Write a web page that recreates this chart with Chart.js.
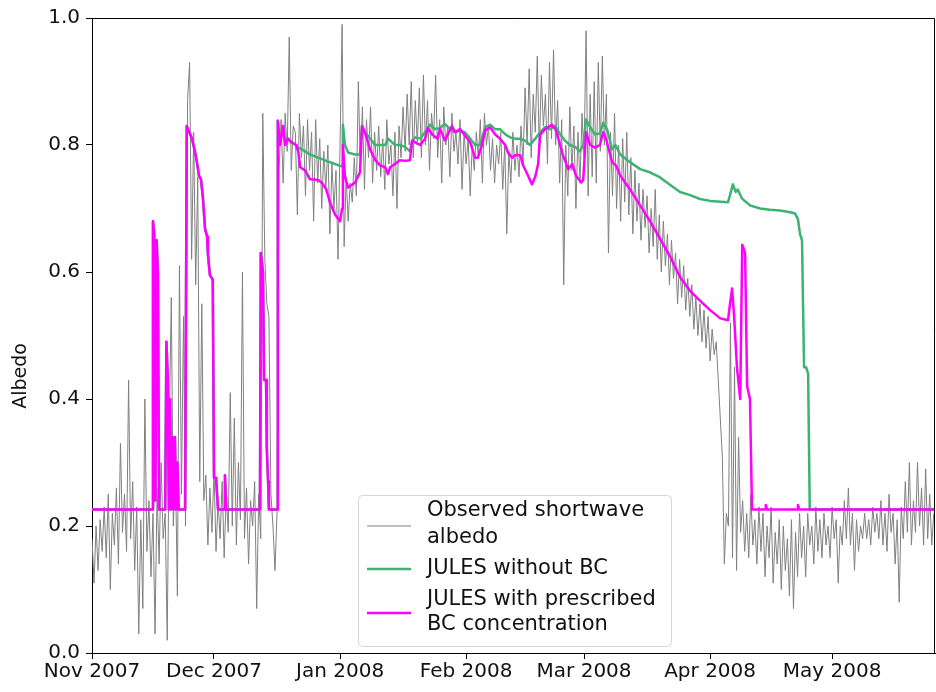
<!DOCTYPE html>
<html>
<head>
<meta charset="utf-8">
<script src="https://cdn.jsdelivr.net/npm/chart.js@4.4.1/dist/chart.umd.min.js"></script>
<style>
  body { margin: 0; background: #fff; }
  canvas { display: block; }
</style>
</head>
<body>
<canvas id="albedoChart" width="936" height="692"></canvas>
<script>
Chart.defaults.font.family = '"DejaVu Sans"'
Chart.defaults.font.size = 20
Chart.defaults.color = '#000'

// x axis is days since 1 Nov 2007
const monthDays = [0, 30, 61, 92, 121, 152, 182];
const monthLabels = ['Nov 2007', 'Dec 2007', 'Jan 2008', 'Feb 2008', 'Mar 2008', 'Apr 2008', 'May 2008'];
const yTicks = [0, 0.2, 0.4, 0.6, 0.8, 1.0];
const yTitle = 'Albedo';

// observed albedo, two readings per day starting 1 Nov
const obsStep = 0.5;
const observed = [
  0.18, 0.11, 0.20, 0.13, 0.21, 0.16, 0.23, 0.15, 0.25, 0.10,
  0.22, 0.17, 0.26, 0.14, 0.33, 0.19, 0.25, 0.16, 0.43, 0.18,
  0.27, 0.13, 0.23, 0.03, 0.21, 0.07, 0.40, 0.16, 0.24, 0.12,
  0.22, 0.03, 0.26, 0.14, 0.30, 0.18, 0.22, 0.02, 0.36, 0.56,
  0.20, 0.30, 0.09, 0.61, 0.25, 0.53, 0.20, 0.87, 0.93, 0.62,
  0.82, 0.58, 0.75, 0.27, 0.55, 0.24, 0.28, 0.17, 0.26, 0.19,
  0.29, 0.16, 0.24, 0.18, 0.27, 0.15, 0.25, 0.19, 0.41, 0.20,
  0.37, 0.17, 0.30, 0.21, 0.60, 0.18, 0.26, 0.14, 0.24, 0.20,
  0.27, 0.07, 0.25, 0.18, 0.85, 0.62, 0.55, 0.53, 0.25, 0.20,
  0.13, 0.22, 0.76, 0.84, 0.74, 0.85, 0.79, 0.97, 0.76, 0.83,
  0.82, 0.69, 0.85, 0.78, 0.83, 0.72, 0.84, 0.76, 0.82, 0.68,
  0.84, 0.74, 0.81, 0.70, 0.79, 0.73, 0.80, 0.66, 0.77, 0.70,
  0.76, 0.62, 0.80, 0.99, 0.64, 0.75, 0.68, 0.74, 0.71, 0.78,
  0.72, 0.90, 0.76, 0.86, 0.73, 0.84, 0.78, 0.86, 0.74, 0.82,
  0.76, 0.83, 0.75, 0.81, 0.73, 0.84, 0.77, 0.80, 0.72, 0.82,
  0.70, 0.83, 0.78, 0.86, 0.79, 0.88, 0.80, 0.90, 0.78, 0.87,
  0.80, 0.89, 0.78, 0.91, 0.80, 0.87, 0.76, 0.85, 0.81, 0.91,
  0.78, 0.84, 0.74, 0.86, 0.80, 0.83, 0.75, 0.85, 0.79, 0.82,
  0.77, 0.84, 0.73, 0.82, 0.77, 0.81, 0.72, 0.80, 0.76, 0.82,
  0.78, 0.84, 0.74, 0.85, 0.80, 0.83, 0.76, 0.81, 0.74, 0.80,
  0.77, 0.82, 0.73, 0.80, 0.66, 0.79, 0.74, 0.82, 0.76, 0.80,
  0.75, 0.83, 0.77, 0.89, 0.80, 0.92, 0.78, 0.88, 0.82, 0.94,
  0.79, 0.91, 0.83, 0.88, 0.77, 0.93, 0.81, 0.95, 0.80, 0.87,
  0.74, 0.84, 0.58, 0.80, 0.72, 0.86, 0.76, 0.83, 0.70, 0.82,
  0.74, 0.85, 0.78, 0.98, 0.72, 0.88, 0.75, 0.90, 0.74, 0.93,
  0.79, 0.94, 0.80, 0.88, 0.63, 0.82, 0.72, 0.85, 0.70, 0.80,
  0.68, 0.81, 0.71, 0.82, 0.69, 0.78, 0.66, 0.76, 0.68, 0.74,
  0.65, 0.73, 0.67, 0.72, 0.63, 0.70, 0.64, 0.73, 0.62, 0.69,
  0.60, 0.68, 0.61, 0.66, 0.58, 0.65, 0.59, 0.63, 0.55, 0.62,
  0.56, 0.61, 0.54, 0.59, 0.53, 0.58, 0.51, 0.56, 0.50, 0.55,
  0.49, 0.54, 0.48, 0.53, 0.46, 0.51, 0.47, 0.49, 0.43, 0.37,
  0.31, 0.14, 0.22, 0.20, 0.52, 0.15, 0.45, 0.13, 0.34, 0.19,
  0.24, 0.16, 0.22, 0.15, 0.25, 0.17, 0.21, 0.14, 0.23, 0.16,
  0.22, 0.12, 0.20, 0.15, 0.23, 0.11, 0.19, 0.14, 0.21, 0.10,
  0.20, 0.13, 0.18, 0.09, 0.21, 0.07, 0.19, 0.12, 0.22, 0.15,
  0.20, 0.12, 0.22, 0.17, 0.20, 0.14, 0.23, 0.16, 0.21, 0.15,
  0.22, 0.17, 0.20, 0.15, 0.23, 0.18, 0.21, 0.11, 0.20, 0.17,
  0.24, 0.18, 0.26, 0.17, 0.22, 0.13, 0.21, 0.16, 0.20, 0.18,
  0.22, 0.18, 0.21, 0.17, 0.23, 0.19, 0.22, 0.18, 0.24, 0.17,
  0.22, 0.16, 0.25, 0.19, 0.22, 0.14, 0.21, 0.08, 0.23, 0.18,
  0.27, 0.19, 0.30, 0.17, 0.24, 0.19, 0.30, 0.20, 0.26, 0.17,
  0.29, 0.18, 0.25, 0.17, 0.22
];

// JULES with prescribed BC
const bcDays = [
  0, 14.8, 15.0, 15.3, 15.6, 15.9, 16.2, 16.5, 18.0, 18.3, 18.6, 18.9, 19.2, 19.5, 19.8, 20.1, 20.4, 20.7, 21.0, 21.3,
  22.9, 23.3, 24.6, 25.3, 25.8, 26.3, 26.8, 27.3, 27.8, 28.3, 28.5, 29.0, 29.7, 30.0, 30.5, 31.0, 32.5, 32.7, 33.0,
  41.3, 41.5, 42.05, 42.3, 42.8, 43.0, 43.3, 43.5, 45.5, 45.7, 46.2, 47.0, 47.5, 48.2, 48.9, 50.2, 50.7,
  51.2, 52.4, 53.6, 55.6, 56.6, 57.6, 58.5, 59.8, 61.0, 61.5, 61.7, 62.2, 63.0, 64.7, 65.9, 66.4, 67.1, 68.4, 69.6,
  70.8, 72.1, 72.8, 73.3, 74.5, 75.7, 77.0, 78.2, 78.7, 80.7, 81.9, 82.6, 83.6, 84.9, 85.6, 86.8, 88.5, 89.3, 90.5,
  91.7, 93.0, 94.2, 94.9, 95.9, 96.7, 97.9, 99.1, 100.3, 101.6, 102.3, 103.3, 104.0, 105.3, 106.0, 107.2, 108.2,
  109.0, 109.7, 110.2, 111.4, 113.1, 114.1, 115.1, 115.8, 117.1, 118.1, 119.0, 120.3, 120.8, 121.5, 122.5, 123.7,
  124.9, 125.7, 126.4, 127.9, 128.9, 129.9, 132.3, 134.8, 137.2, 139.7, 142.2, 144.6, 147.1, 149.5, 152.0, 154.5,
  156.4, 156.9, 157.4, 157.9, 158.6, 159.4, 159.9, 160.6, 161.1, 161.8, 162.3, 165.5, 165.7, 166.0, 173.4, 173.6,
  173.9, 207.3
];
const bcAlbedo = [
  0.226, 0.226, 0.68, 0.66, 0.24, 0.65, 0.60, 0.226, 0.226, 0.49, 0.44, 0.226, 0.40, 0.226, 0.34, 0.226, 0.34, 0.226, 0.30, 0.226,
  0.226, 0.83, 0.81, 0.79, 0.773, 0.752, 0.746, 0.715, 0.668, 0.656, 0.628, 0.595, 0.588, 0.276, 0.276, 0.226, 0.226, 0.28, 0.226,
  0.226, 0.63, 0.60, 0.43, 0.43, 0.32, 0.27, 0.226, 0.226, 0.838, 0.80, 0.83, 0.80, 0.81, 0.805, 0.80, 0.79,
  0.765, 0.76, 0.746, 0.745, 0.74, 0.73, 0.71, 0.69, 0.68, 0.70, 0.80, 0.75, 0.733, 0.741, 0.757, 0.83, 0.82, 0.793, 0.777,
  0.768, 0.765, 0.754, 0.765, 0.77, 0.776, 0.775, 0.776, 0.807, 0.80, 0.81, 0.827, 0.817, 0.81, 0.825, 0.807, 0.83, 0.82, 0.825,
  0.815, 0.804, 0.78, 0.78, 0.80, 0.823, 0.828, 0.817, 0.81, 0.80, 0.788, 0.78, 0.784, 0.784, 0.768, 0.752, 0.738,
  0.75, 0.77, 0.816, 0.825, 0.832, 0.823, 0.80, 0.784, 0.762, 0.77, 0.752, 0.741, 0.745, 0.82, 0.80, 0.796,
  0.80, 0.82, 0.81, 0.773, 0.767, 0.752, 0.73, 0.705, 0.68, 0.652, 0.624, 0.592, 0.57, 0.555, 0.54, 0.527,
  0.524, 0.55, 0.574, 0.53, 0.45, 0.40, 0.643, 0.63, 0.42, 0.40, 0.226, 0.226, 0.233, 0.226, 0.226, 0.233,
  0.226, 0.226
];

// JULES without BC
const noBcDays = [
  0, 14.8, 15.0, 15.3, 15.6, 15.9, 16.2, 16.5, 18.0, 18.3, 18.6, 18.9, 19.2, 19.5, 19.8, 20.1, 20.4, 20.7, 21.0, 21.3,
  22.9, 23.3, 24.6, 25.3, 25.8, 26.3, 26.8, 27.3, 27.8, 28.3, 28.5, 29.0, 29.7, 30.0, 30.5, 31.0, 32.5, 32.7, 33.0,
  41.3, 41.5, 42.05, 42.3, 42.8, 43.0, 43.3, 43.5, 45.5, 45.7, 46.2, 47.0, 47.5, 48.2, 48.9, 50.2, 50.7,
  51.2, 52.4, 53.6, 55.6, 57.6, 59.8, 61.0, 61.5, 61.7, 62.2, 63.0, 64.7, 65.9, 66.4, 67.1, 68.4, 69.6, 70.8,
  72.1, 72.8, 74.5, 75.7, 77.0, 78.2, 78.7, 79.5, 80.7, 81.9, 83.1, 84.4, 85.6, 86.8, 88.1, 89.3, 90.5, 91.7,
  93.0, 94.2, 95.4, 96.7, 97.9, 99.1, 100.3, 101.6, 102.8, 104.0, 105.3, 106.5, 107.7, 109.0, 110.2, 111.4,
  112.6, 113.9, 115.1, 116.3, 117.5, 118.8, 120.0, 120.8, 121.5, 122.5, 123.7, 124.9, 125.7, 126.7, 127.9, 128.7,
  129.9, 132.3, 134.8, 137.2, 139.7, 142.2, 144.6, 147.1, 149.5, 152.0, 156.4, 156.9, 157.6, 158.3, 158.8, 159.8,
  161.8, 164.3, 166.7, 169.2, 171.7, 172.9, 173.6, 174.1, 174.6, 175.1, 175.6, 176.1, 176.5, 207.3
];
const noBcAlbedo = [
  0.226, 0.226, 0.68, 0.66, 0.24, 0.65, 0.60, 0.226, 0.226, 0.49, 0.44, 0.226, 0.40, 0.226, 0.34, 0.226, 0.34, 0.226, 0.30, 0.226,
  0.226, 0.83, 0.81, 0.79, 0.773, 0.752, 0.746, 0.715, 0.668, 0.656, 0.628, 0.595, 0.588, 0.276, 0.276, 0.226, 0.226, 0.28, 0.226,
  0.226, 0.63, 0.60, 0.43, 0.43, 0.32, 0.27, 0.226, 0.226, 0.838, 0.80, 0.83, 0.80, 0.81, 0.805, 0.80, 0.795,
  0.795, 0.79, 0.785, 0.78, 0.775, 0.77, 0.767, 0.767, 0.832, 0.80, 0.788, 0.785, 0.785, 0.83, 0.82, 0.81, 0.80, 0.80,
  0.80, 0.81, 0.80, 0.80, 0.797, 0.79, 0.805, 0.812, 0.81, 0.82, 0.832, 0.825, 0.827, 0.833, 0.825, 0.82, 0.823, 0.82,
  0.81, 0.80, 0.80, 0.828, 0.832, 0.825, 0.825, 0.817, 0.812, 0.81, 0.81, 0.807, 0.80, 0.81, 0.82, 0.828,
  0.825, 0.83, 0.817, 0.807, 0.80, 0.797, 0.79, 0.80, 0.84, 0.828, 0.817, 0.818, 0.835, 0.824, 0.793, 0.80,
  0.785, 0.773, 0.762, 0.757, 0.749, 0.737, 0.726, 0.721, 0.715, 0.712, 0.71, 0.721, 0.738, 0.726, 0.73, 0.716,
  0.705, 0.70, 0.698, 0.697, 0.694, 0.692, 0.683, 0.66, 0.65, 0.45, 0.45, 0.44, 0.226, 0.226
];

const toPoints = (days, values) => values.map((v, i) => ({ x: days[i], y: v }));
const obsPoints = observed.map((v, i) => ({ x: i * obsStep, y: v }));

// legend entries drawn inside the axes like matplotlib
const legendItems = [
  { lines: ['Observed shortwave', 'albedo'], color: '#808080', width: 1 },
  { lines: ['JULES without BC'], color: '#3cb371', width: 2.5 },
  { lines: ['JULES with prescribed', 'BC concentration'], color: '#ff00ff', width: 2.5 }
];

const frameAndLegend = {
  id: 'frameAndLegend',
  afterDatasetsDraw(chart) {
    const { ctx, chartArea: ca } = chart;
    ctx.save();
    // top and right spines
    ctx.strokeStyle = '#000';
    ctx.lineWidth = 1;
    ctx.beginPath();
    ctx.moveTo(ca.left, ca.top + 0.5);
    ctx.lineTo(ca.right - 0.5, ca.top + 0.5);
    ctx.lineTo(ca.right - 0.5, ca.bottom);
    ctx.stroke();

    // y axis title, sits a little below the middle as in the original
    ctx.save();
    ctx.translate(21, ca.top + 358);
    ctx.rotate(-Math.PI / 2);
    ctx.font = '19px "DejaVu Sans"';
    ctx.fillStyle = '#111';
    ctx.textAlign = 'center';
    ctx.textBaseline = 'middle';
    ctx.fillText(yTitle, 0, 0);
    ctx.restore();

    // legend box
    const bx = ca.left + 266, by = ca.top + 477, bw = 313, bh = 151;
    ctx.fillStyle = 'rgba(255,255,255,0.8)';
    ctx.strokeStyle = '#d6d6d6';
    ctx.beginPath();
    ctx.roundRect(bx + 0.5, by + 0.5, bw, bh, 4);
    ctx.fill();
    ctx.stroke();

    ctx.font = '21px "DejaVu Sans"';
    ctx.fillStyle = '#111';
    ctx.textBaseline = 'middle';
    const textRows = [[16, 43], [74], [105, 130]];
    const lineRows = [31, 74, 118];
    legendItems.forEach((item, i) => {
      ctx.strokeStyle = item.color;
      ctx.lineWidth = item.width;
      ctx.beginPath();
      ctx.moveTo(bx + 9, by + lineRows[i]);
      ctx.lineTo(bx + 53, by + lineRows[i]);
      ctx.stroke();
      item.lines.forEach((t, j) => {
        ctx.fillText(t, bx + 69, by + textRows[i][j]);
      });
    });
    ctx.restore();
  }
};

const renderAlbedoChart = () => {
  const canvas = document.getElementById('albedoChart');

  new Chart(canvas, {
    type: 'line',
    data: {
      datasets: [
        {
          label: 'JULES with prescribed BC concentration',
          data: toPoints(bcDays, bcAlbedo),
          borderColor: '#ff00ff',
          borderWidth: 2.5,
          order: 0
        },
        {
          label: 'JULES without BC',
          data: toPoints(noBcDays, noBcAlbedo),
          borderColor: '#3cb371',
          borderWidth: 2.5,
          order: 1
        },
        {
          label: 'Observed shortwave albedo',
          data: obsPoints,
          borderColor: '#808080',
          borderWidth: 1,
          order: 2
        }
      ]
    },
    options: {
      responsive: false,
      animation: false,
      layout: { padding: { top: 15, right: 1, left: 0, bottom: 0 } },
      elements: {
        point: { radius: 0 },
        line: { tension: 0, borderJoinStyle: 'round', fill: false }
      },
      plugins: {
        legend: { display: false },
        tooltip: { enabled: false }
      },
      scales: {
        x: {
          type: 'linear',
          min: 0,
          max: 207.3,
          afterBuildTicks: (scale) => {
            scale.ticks = monthDays.map((d) => ({ value: d }));
          },
          afterFit: (scale) => { scale.height = 39; },
          ticks: {
            autoSkip: false,
            maxRotation: 0,
            padding: 1,
            color: '#111',
            callback: (value, index) => monthLabels[index]
          },
          grid: {
            drawOnChartArea: false,
            tickLength: 6,
            tickColor: '#000'
          },
          border: { color: '#000', width: 1 }
        },
        y: {
          min: 0,
          max: 1,
          afterBuildTicks: (scale) => {
            scale.ticks = yTicks.map((v) => ({ value: v }));
          },
          afterFit: (scale) => { scale.width = 92; },
          ticks: {
            padding: 6,
            color: '#111',
            callback: (value) => value.toFixed(1)
          },
          grid: {
            drawOnChartArea: false,
            tickLength: 6,
            tickColor: '#000'
          },
          border: { color: '#000', width: 1 }
        }
      }
    },
    plugins: [frameAndLegend]
  });
};

document.addEventListener('DOMContentLoaded', () => {
  renderAlbedoChart();
});
</script>
</body>
</html>
